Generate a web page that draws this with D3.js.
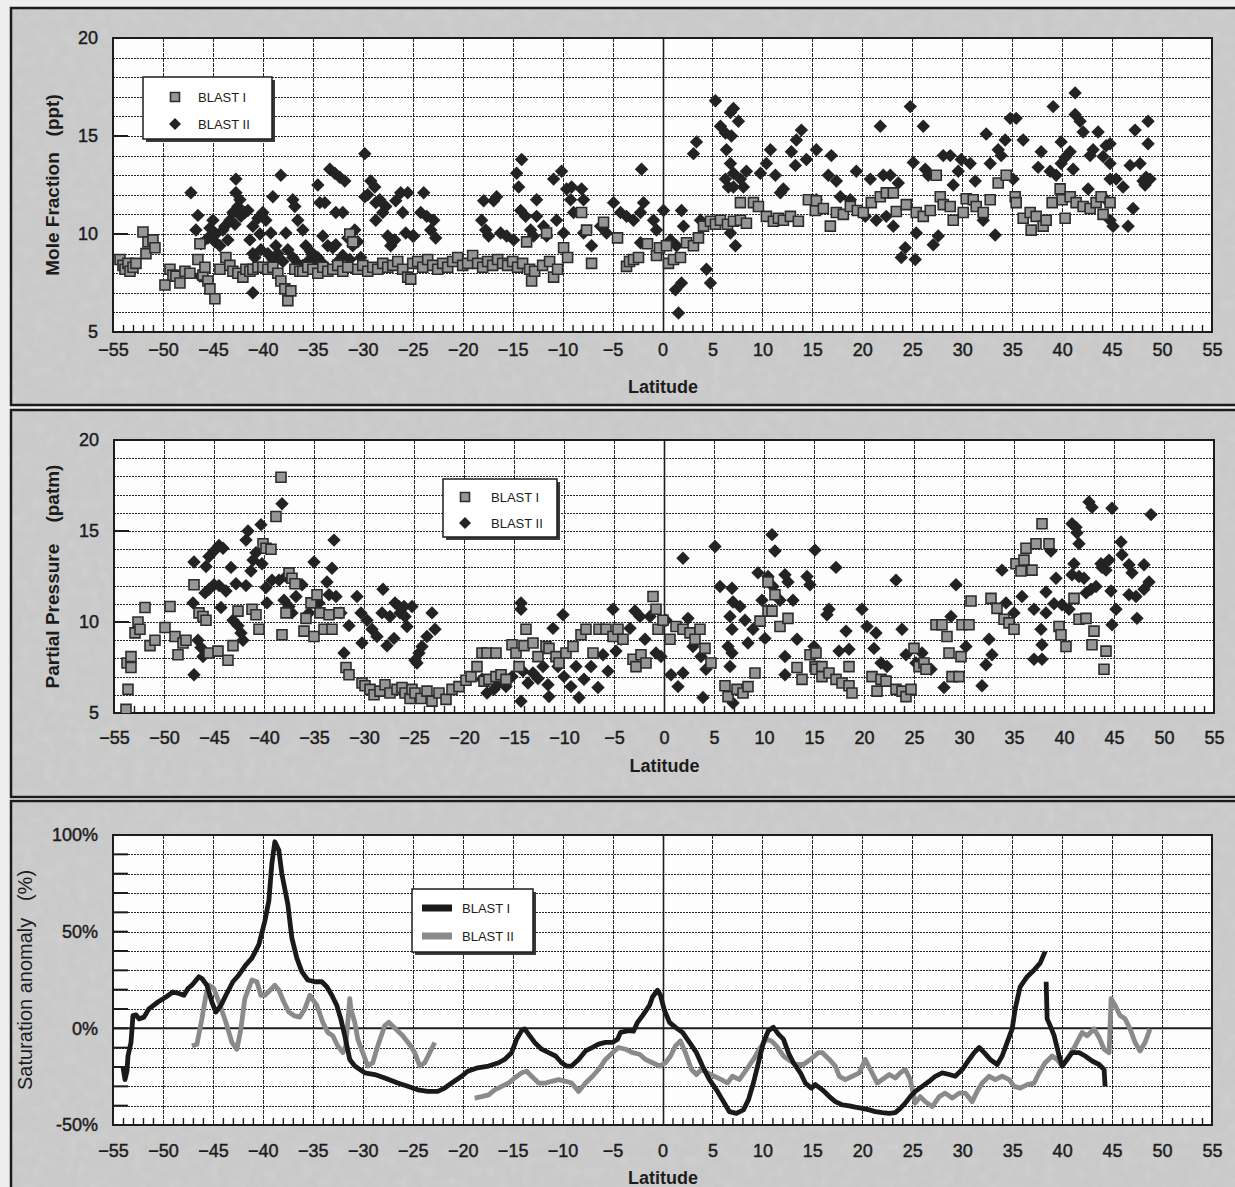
<!DOCTYPE html>
<html>
<head>
<meta charset="utf-8">
<script src="https://cdn.jsdelivr.net/npm/d3@7"></script>
<style>
  html, body { margin: 0; padding: 0; background: #eeeeee; }
  svg { display: block; font-family: "Liberation Sans", Arial, Helvetica, sans-serif; }
</style>
</head>
<body>
<svg id="chart" width="1235" height="1187"></svg>
<script>
// ---------- shared categories / ticks ----------
const seriesNames = ["BLAST I", "BLAST II"];
const latTicks = d3.range(-55, 56, 5);
const moleTicks = [5, 10, 15, 20];
const pressureTicks = [5, 10, 15, 20];
const anomalyTicks = [-50, 0, 50, 100];

// ---------- Mole fraction (ppt) vs latitude: [latitude, value] ----------
const moleBlastI = [
[-54.3,8.7],[-54.0,8.4],[-53.8,8.2],[-53.5,8.5],[-53.3,8.1],[-53.0,8.3],[-52.7,8.5],[-52.0,10.1],[-51.7,9.0],[-51.5,9.6],[-51.0,9.7],[-50.8,9.3],
[-49.8,7.4],[-49.3,8.2],[-49.0,7.9],[-48.7,7.85],[-48.3,7.5],[-47.8,8.1],[-47.3,8.0],[-46.5,8.7],[-46.3,9.5],[-46.0,7.9],[-45.8,8.3],[-45.5,7.6],[-45.3,7.2],[-44.8,6.7],[-44.3,8.2],[-43.7,8.8],[-43.3,8.4],[-43.0,8.1],[-42.5,8.0],[-42.0,7.8],[-41.7,8.2],[-41.3,8.1],[-41.0,8.2],[-40.5,8.3],[-40.0,8.3],[-39.5,8.2],[-39.0,8.3],[-38.5,8.0],[-38.2,7.6],[-37.8,7.2],[-37.5,6.6],[-37.2,7.1],[-36.8,8.2],[-36.3,8.1],[-36.0,8.1],[-35.5,8.3],[-35.0,8.2],[-34.5,8.0],[-34.0,8.3],[-33.5,8.1],[-33.0,8.2],[-32.5,8.4],[-32.0,8.1],[-31.5,8.3],[-31.3,10.0],[-31.0,9.6],[-30.5,8.2],[-30.0,8.4],[-29.5,8.1],[-29.0,8.3],[-28.5,8.2],[-28.0,8.5],[-27.5,8.3],[-27.0,8.4],[-26.5,8.6],[-26.0,8.2],[-25.5,7.8],[-25.2,7.7],[-25.0,8.5],
[-24.5,8.6],[-24.0,8.3],[-23.5,8.7],[-23.0,8.4],[-22.5,8.2],[-22.0,8.5],[-21.5,8.3],[-21.0,8.6],[-20.5,8.8],[-20.0,8.4],[-19.5,8.5],[-19.0,8.9],[-18.5,8.5],[-18.0,8.3],[-17.5,8.6],[-17.0,8.4],[-16.5,8.7],[-16.0,8.5],[-15.5,8.4],[-15.0,8.6],[-14.5,8.3],[-14.0,8.5],[-13.6,9.6],[-13.3,8.2],[-13.1,7.6],[-12.8,8.1],[-12.0,8.4],[-11.6,10.05],[-11.3,8.6],[-10.9,7.8],[-10.5,8.2],[-9.9,9.3],[-9.5,8.8],[-8.1,11.1],[-7.6,10.2],[-7.1,8.5],[-5.9,10.6],[-4.5,9.8],[-3.6,8.35],[-3.3,8.6],[-2.9,8.7],[-2.4,8.8],[-1.5,9.5],[-0.6,8.9],[-0.3,9.3],
[0.4,9.4],[0.6,8.5],[1.1,8.7],[1.8,8.8],[2.4,9.55],[3.1,9.4],[3.6,9.8],[4.1,10.4],[4.8,10.65],[5.3,10.5],[5.8,10.7],[6.5,10.5],[7.1,10.65],[7.8,10.7],[7.8,11.6],[8.4,10.55],[9.1,11.6],[9.6,11.4],[10.4,10.9],[11.1,10.65],[11.6,10.8],[12.1,10.7],[12.8,10.9],[13.6,10.65],[14.6,11.75],[15.3,11.2],[15.4,11.7],[16.1,11.3],[16.8,10.4],[17.4,11.1],[18.1,11.0],[18.8,11.4],[19.5,11.2],[20.1,11.1],[20.9,11.6],[21.8,11.9],[22.4,12.1],[23.1,12.1],[23.4,11.15],[24.4,11.5],[25.4,11.1],[26.1,10.9],[26.8,11.2],[27.4,13.0],[27.8,11.9],[28.1,11.5],[28.8,11.4],[29.1,10.7],[30.1,11.1],[30.4,11.8],[31.1,11.75],[31.4,11.4],[32.1,11.1],[32.8,11.75],[33.6,12.6],[34.4,13.0],[35.3,11.9],[35.4,11.6],[36.1,10.8],[36.8,11.1],[36.9,10.2],[37.4,10.9],[38.1,10.4],[38.4,10.7],[39.0,11.6],[39.8,12.3],[40.0,11.75],[40.3,10.8],[40.8,11.9],[41.4,11.6],[42.1,11.4],[42.8,11.3],[43.4,11.6],[43.9,11.9],[44.1,11.0],[44.8,11.6]
];
const moleBlastII = [
[-47.2,12.1],[-46.7,10.2],[-46.5,10.95],[-46.3,7.85],[-46.2,9.5],[-45.8,7.7],[-45.5,9.8],[-45.3,10.3],[-45.0,10.7],[-44.8,9.6],[-44.7,10.0],[-44.3,9.4],[-44.0,10.2],[-43.8,10.4],[-43.5,9.7],[-43.3,10.7],[-43.0,11.1],[-42.8,10.5],[-42.7,12.8],[-42.7,12.1],[-42.5,11.4],[-42.3,11.75],[-42.2,10.9],[-41.8,11.1],[-41.5,11.2],[-41.3,9.7],[-41.0,10.4],[-41.0,9.0],[-41.0,7.0],[-40.8,8.8],[-40.5,10.8],[-40.3,10.0],[-40.2,9.2],[-40.0,11.1],[-39.7,10.7],[-39.5,9.0],[-39.2,10.05],[-39.0,11.9],[-39.0,8.7],[-38.7,9.4],[-38.5,9.0],[-38.2,13.0],[-38.0,8.6],[-37.7,10.05],[-37.5,9.2],[-37.0,11.75],[-37.0,8.8],[-36.8,11.4],[-36.5,10.7],[-36.5,8.5],[-36.0,10.2],[-36.0,8.4],[-35.7,9.4],[-35.5,8.6],[-35.2,9.1],[-35.0,8.9],[-34.8,8.4],[-34.5,12.5],[-34.5,8.8],[-34.3,11.6],[-34.0,9.9],[-34.0,8.5],[-33.8,11.6],[-33.5,9.4],[-33.3,13.3],[-33.0,9.3],[-32.8,13.1],[-32.7,11.1],[-32.7,9.45],[-32.5,8.6],[-32.3,12.9],[-32.0,11.1],[-32.0,8.9],[-31.8,12.7],[-31.5,9.8],[-31.3,8.7],[-31.0,9.4],[-30.8,10.2],[-30.5,9.6],[-30.2,8.8],[-29.8,14.1],[-29.8,11.9],[-29.5,12.0],[-29.2,12.7],[-28.8,12.4],[-28.7,11.6],[-28.7,10.7],[-28.3,11.75],[-28.0,11.1],[-27.7,11.4],[-27.5,9.9],[-27.2,9.4],[-27.0,9.6],[-26.8,9.7],[-26.7,11.7],[-26.2,12.1],[-26.0,11.1],[-25.7,10.05],[-25.5,12.1],[-25.0,9.9],[-24.9,9.9],[-24.2,11.1],[-23.9,12.1],[-23.6,10.9],[-23.2,10.2],[-22.9,10.7],[-22.7,9.8],
[-18.1,10.7],[-17.9,11.7],[-17.7,10.2],[-17.4,9.9],[-16.9,11.7],[-16.6,11.9],[-16.2,10.05],[-15.6,9.9],[-14.9,9.7],[-14.6,13.1],[-14.4,12.4],[-14.2,11.2],[-14.1,13.8],[-13.7,10.9],[-13.2,10.2],[-12.9,9.9],[-12.6,11.75],[-12.6,10.9],[-11.9,10.4],[-11.6,9.9],[-10.9,12.8],[-10.6,10.7],[-10.1,13.2],[-9.9,10.05],[-9.6,12.3],[-9.2,11.75],[-9.1,12.4],[-8.9,11.1],[-8.1,12.3],[-7.9,11.75],[-7.9,10.05],[-7.1,9.4],[-6.2,10.4],[-5.6,10.05],[-4.9,11.6],[-4.2,11.1],[-3.6,10.9],[-2.9,10.7],[-2.2,11.1],[-2.1,13.3],[-1.9,11.6],[-2.2,9.55],[-0.9,10.7],[-0.6,10.2],
[0.1,11.2],[0.8,9.7],[1.3,7.15],[1.4,9.4],[1.6,5.97],[1.9,7.5],[1.9,11.2],[2.1,10.4],[3.1,14.1],[3.4,14.7],[3.8,10.7],[4.4,8.2],[4.8,7.5],[5.3,16.8],[5.8,15.5],[6.3,15.15],[6.3,12.8],[6.4,14.3],[6.6,12.4],[6.8,16.2],[6.8,13.6],[6.8,10.05],[6.9,15.0],[7.1,16.4],[7.1,13.1],[7.1,12.4],[7.3,9.4],[7.6,15.75],[7.8,12.8],[8.1,12.4],[8.4,13.2],[9.8,13.1],[10.4,13.6],[10.8,14.3],[11.3,13.0],[11.8,12.1],[12.1,12.3],[12.9,14.2],[13.3,13.5],[13.4,14.8],[13.9,15.3],[14.4,13.8],[15.4,14.3],[15.4,11.75],[16.6,13.0],[16.9,14.0],[17.4,12.7],[17.8,11.9],[18.8,11.75],[19.4,13.2],[20.3,10.9],[20.8,12.8],[21.4,10.7],[21.8,15.5],[22.1,13.0],[22.4,10.9],[22.8,13.0],[23.1,10.4],[23.6,12.6],[23.9,8.8],[24.3,9.3],[24.8,16.5],[25.1,13.65],[25.3,8.7],[25.4,10.05],[26.1,15.5],[26.3,13.3],[26.6,13.0],[27.1,9.45],[27.6,9.9],[28.1,14.0],[28.8,14.0],[29.1,12.5],[29.6,13.2],[29.9,13.8],[30.8,13.6],[31.3,12.7],[32.1,10.7],[32.4,15.1],[32.8,13.6],[33.3,9.95],[33.6,14.3],[33.9,14.0],[34.3,14.8],[34.8,15.9],[35.1,12.8],[35.4,15.9],[36.1,14.8],[37.6,13.4],[37.9,14.2],[38.8,13.2],[39.1,16.5],[39.4,13.0],[39.9,14.7],[39.9,13.6],[40.3,13.9],[40.8,14.2],[41.1,13.3],[41.3,17.2],[41.3,16.1],[41.8,15.75],[42.1,15.2],[42.6,12.3],[42.8,14.0],[43.1,14.3],[43.6,15.2],[44.1,13.95],[44.4,14.5],[44.4,11.75],[44.8,14.6],[44.8,13.6],[44.8,12.8],[44.8,10.7],[45.1,10.4],[45.4,12.8],[46.1,12.4],[46.6,10.4],[46.8,13.5],[47.1,11.3],[47.3,15.3],[47.8,13.6],[48.1,12.7],[48.3,12.5],[48.4,12.9],[48.6,14.6],[48.6,15.75],[48.8,12.8]
];

// ---------- Partial pressure (patm) vs latitude: [latitude, value] ----------
const pressureBlastI = [
[-53.8,5.2],[-53.7,7.75],[-53.6,6.3],[-53.3,7.5],[-53.3,8.1],[-52.9,9.4],[-52.6,10.0],[-52.4,9.6],[-51.9,10.8],[-51.4,8.7],[-50.9,9.0],[-49.9,9.7],[-49.4,10.85],[-48.9,9.2],[-48.6,8.2],[-48.1,8.85],[-47.8,9.0],[-47.0,12.05],[-46.5,10.5],[-46.1,10.3],[-45.8,10.1],[-45.5,8.3],[-44.6,8.4],[-43.6,7.9],[-43.1,8.7],[-42.6,10.6],[-41.2,10.7],[-40.8,10.4],[-40.5,9.6],[-40.1,14.3],[-39.8,14.05],[-39.3,14.0],[-38.8,15.8],[-38.3,17.95],[-38.2,9.3],[-37.8,10.5],[-37.5,12.7],[-37.2,12.4],[-36.9,12.1],[-36.0,9.5],[-35.8,10.2],[-35.3,11.05],[-35.0,9.2],[-34.7,11.5],[-34.4,10.5],[-34.0,9.6],[-33.5,10.4],[-33.2,9.6],[-32.5,10.5],[-31.8,7.5],[-31.5,7.1],[-30.2,6.65],[-29.9,6.5],[-29.4,6.3],[-29.0,6.0],[-28.4,6.2],[-27.9,6.55],[-27.4,6.1],[-26.7,6.3],[-26.2,6.4],[-25.9,6.1],[-25.4,5.8],[-25.2,6.3],[-24.9,6.1],[-24.3,5.8],[-23.7,6.2],[-23.2,5.65],[-22.5,6.1],[-21.8,5.75],[-21.2,6.3],[-20.5,6.45],[-19.8,6.8],[-19.3,7.0],[-18.7,7.55],[-18.2,8.3],[-18.0,6.75],[-17.7,8.3],[-17.5,6.85],[-16.8,8.3],[-16.8,7.0],[-16.3,7.1],[-15.8,6.85],[-15.2,8.75],[-14.8,8.3],[-14.5,7.55],[-14.0,8.7],[-13.8,9.6],[-13.1,8.85],[-12.6,8.1],[-11.8,8.65],[-11.5,8.55],[-10.8,8.1],[-10.5,7.75],[-9.8,8.3],[-9.1,8.65],[-8.3,9.3],[-7.8,9.6],[-7.1,8.3],[-6.5,9.6],[-5.8,9.6],[-5.1,9.2],[-4.6,9.6],[-4.1,9.05],[-3.1,7.95],[-2.8,7.55],[-2.3,8.2],[-1.8,7.75],[-1.1,11.4],[-0.8,10.7],[-0.6,9.6],[-0.1,10.1],
[0.6,9.05],[1.2,9.75],[1.9,9.6],[2.6,9.4],[3.1,9.05],[3.6,9.6],[4.1,8.55],[4.7,7.75],[6.1,6.5],[6.4,5.9],[7.3,6.3],[7.9,6.1],[8.4,6.45],[9.1,7.2],[9.6,10.05],[10.4,10.6],[10.4,12.2],[10.8,10.6],[11.1,11.5],[11.6,9.75],[12.4,10.2],[13.3,7.5],[13.8,6.85],[14.6,8.2],[15.1,7.55],[15.2,8.3],[15.2,7.4],[15.8,7.55],[15.8,7.0],[16.5,7.2],[17.2,6.85],[17.8,6.65],[18.5,6.5],[18.5,7.55],[18.8,6.1],[20.8,7.0],[21.3,6.2],[21.7,6.85],[22.2,6.75],[23.2,6.3],[23.8,6.2],[24.2,5.9],[24.7,6.3],[25.0,8.55],[25.5,7.55],[26.0,7.75],[26.2,7.4],[27.2,9.85],[27.8,9.85],[28.3,9.2],[28.5,8.3],[28.8,7.0],[29.5,7.0],[29.7,8.1],[29.8,9.85],[30.5,9.85],[30.7,11.15],[32.7,11.3],[33.3,10.75],[34.0,10.15],[34.5,9.95],[35.0,9.6],[35.2,13.2],[35.7,12.8],[36.0,13.4],[36.2,14.05],[36.8,12.85],[37.2,14.3],[37.8,15.4],[38.5,14.3],[39.5,9.75],[39.7,9.3],[40.2,8.65],[41.0,11.3],[41.5,10.15],[42.2,10.2],[42.8,8.75],[43.0,9.5],[44.0,7.4],[44.2,8.4]
];
const pressureBlastII = [
[-47.1,11.05],[-47.0,13.3],[-47.0,7.1],[-46.6,9.0],[-46.3,8.6],[-46.1,8.1],[-45.9,11.6],[-45.8,13.05],[-45.5,13.6],[-45.5,11.8],[-45.0,13.9],[-45.0,12.05],[-44.5,14.2],[-44.5,12.0],[-44.3,10.8],[-44.1,14.05],[-43.8,11.7],[-43.3,13.0],[-43.1,10.1],[-42.8,12.1],[-42.6,9.8],[-42.3,9.4],[-42.1,9.0],[-41.8,12.0],[-41.8,14.5],[-41.6,15.0],[-41.3,12.8],[-41.1,13.4],[-40.8,13.8],[-40.3,15.35],[-40.2,13.2],[-39.8,11.9],[-39.7,11.05],[-39.2,12.3],[-38.5,12.3],[-38.2,16.5],[-38.0,11.2],[-37.8,12.5],[-37.5,10.85],[-37.2,10.5],[-36.8,11.4],[-36.2,12.05],[-35.5,10.5],[-35.0,13.3],[-34.5,11.05],[-33.7,12.2],[-33.5,11.5],[-33.2,12.95],[-33.0,14.5],[-32.8,11.4],[-32.3,10.5],[-32.0,8.3],[-31.5,9.8],[-30.7,11.4],[-30.3,10.5],[-30.2,8.85],[-29.7,10.1],[-29.2,9.6],[-28.7,9.2],[-28.2,10.5],[-28.1,11.8],[-27.7,8.7],[-27.4,10.3],[-27.0,9.1],[-26.9,11.05],[-26.5,10.85],[-26.4,10.5],[-26.0,10.85],[-25.9,10.3],[-25.7,9.75],[-25.2,10.85],[-24.9,7.9],[-24.7,7.75],[-24.5,8.3],[-24.2,8.65],[-23.7,9.2],[-23.2,10.5],[-22.9,9.6],
[-18.2,6.85],[-17.7,6.1],[-17.0,6.3],[-16.5,6.65],[-15.8,6.45],[-15.2,7.0],[-14.3,11.05],[-14.3,10.7],[-14.3,5.65],[-14.1,7.3],[-13.6,6.65],[-13.1,7.2],[-12.6,6.9],[-12.1,7.55],[-11.6,6.55],[-11.5,5.9],[-11.1,9.65],[-10.6,7.55],[-10.1,10.4],[-10.0,7.0],[-9.3,6.45],[-8.8,7.55],[-8.5,5.85],[-8.0,6.85],[-7.3,7.55],[-6.6,6.4],[-6.1,8.2],[-5.6,7.3],[-5.1,10.7],[-4.8,8.4],[-4.3,9.05],[-3.4,9.65],[-2.9,10.6],[-2.4,10.3],[-1.9,9.05],[-1.4,10.3],[-0.8,8.3],[-0.3,8.1],
[0.2,10.1],[0.7,7.1],[1.4,6.45],[1.9,13.5],[1.9,7.2],[2.4,10.2],[2.9,8.65],[3.7,8.1],[3.9,5.85],[4.2,7.4],[5.1,14.15],[5.6,11.95],[6.4,8.65],[6.6,10.3],[6.6,7.55],[6.8,11.85],[6.8,9.6],[6.8,8.3],[6.9,11.1],[6.9,5.55],[7.6,10.85],[8.1,10.1],[8.4,8.85],[8.9,9.6],[9.4,12.7],[9.8,11.2],[10.1,9.1],[10.4,12.5],[10.8,14.8],[10.9,11.95],[11.1,13.9],[11.6,11.2],[12.1,12.6],[12.1,8.1],[12.1,7.1],[12.4,12.2],[12.9,11.2],[13.3,9.05],[14.3,12.5],[14.6,12.05],[15.0,8.65],[15.1,13.95],[16.3,10.4],[16.5,10.7],[17.2,13.0],[17.5,8.4],[18.2,9.5],[18.5,8.5],[19.8,10.7],[20.3,9.75],[21.0,8.55],[21.2,9.4],[21.7,7.75],[22.3,7.55],[23.2,12.3],[23.8,9.6],[24.2,8.2],[25.2,7.75],[25.8,8.3],[26.7,7.4],[28.0,6.4],[28.7,10.3],[29.2,12.05],[30.2,8.65],[31.8,6.5],[32.2,7.65],[32.5,9.05],[32.8,8.2],[33.8,12.85],[34.2,11.05],[35.0,10.5],[35.8,11.4],[37.0,10.7],[37.0,7.95],[37.7,9.6],[37.8,8.75],[37.8,7.95],[38.2,11.65],[38.2,10.5],[38.7,13.9],[39.0,11.0],[39.2,12.4],[39.8,10.95],[40.5,10.7],[40.8,15.4],[40.8,12.6],[41.0,13.2],[41.2,15.2],[41.3,14.9],[41.5,14.3],[41.5,12.5],[42.0,12.4],[42.2,11.6],[42.5,16.6],[42.7,11.8],[42.8,16.3],[43.2,11.95],[43.7,13.2],[43.8,13.0],[44.2,12.85],[44.5,13.4],[44.7,11.7],[44.8,16.25],[44.8,9.85],[45.2,10.7],[45.7,14.4],[45.8,13.7],[46.5,13.15],[46.5,11.5],[46.8,12.7],[47.2,11.4],[47.3,10.2],[48.0,13.15],[48.0,11.8],[48.5,12.2],[48.7,15.9]
];

// ---------- Saturation anomaly (%) vs latitude: [latitude, value], null = gap ----------
const anomalyBlastI = [
[-54.0,-20.0],[-53.8,-26.5],[-53.6,-22.0],[-53.5,-14.3],[-53.2,-7.3],[-53.0,6.6],[-52.7,7.0],[-52.4,4.9],[-51.9,5.8],[-51.4,10.1],[-50.5,13.6],[-49.7,16.2],[-49.0,18.8],[-48.4,18.0],[-47.9,17.1],[-47.5,20.6],[-47.1,22.3],[-46.4,26.7],[-46.1,25.8],[-45.6,22.3],[-45.1,13.6],[-44.7,8.4],[-44.2,11.9],[-43.7,17.1],[-43.0,24.1],[-42.4,27.6],[-41.7,32.8],[-41.1,36.3],[-40.4,43.3],[-39.8,55.5],[-39.4,66.0],[-39.1,85.2],[-38.8,96.5],[-38.4,92.1],[-38.1,79.9],[-37.5,64.2],[-37.1,46.8],[-36.6,36.3],[-36.1,29.3],[-35.5,25.0],[-34.8,24.1],[-34.1,24.1],[-33.6,21.5],[-33.1,17.1],[-32.6,11.9],[-32.2,4.9],[-31.8,-3.8],[-31.3,-16.1],[-30.8,-19.5],[-29.8,-23.0],[-28.8,-23.9],[-27.8,-25.7],[-26.5,-28.3],[-25.5,-30.0],[-24.5,-31.8],[-23.5,-32.6],[-22.5,-32.6],[-21.8,-30.9],[-21.1,-28.3],[-20.1,-24.8],[-19.5,-22.2],[-18.5,-20.4],[-17.4,-19.5],[-16.4,-17.8],[-15.8,-16.1],[-15.1,-12.6],[-14.6,-5.6],[-14.1,-1.2],[-13.8,-0.3],[-13.3,-3.8],[-12.8,-7.3],[-12.1,-10.8],[-11.4,-12.6],[-10.7,-14.3],[-10.1,-17.8],[-9.6,-19.5],[-9.1,-19.5],[-8.4,-16.1],[-7.7,-11.7],[-7.0,-9.9],[-6.4,-8.2],[-5.7,-7.3],[-5.0,-7.3],[-4.5,-5.6],[-4.2,-2.1],[-3.4,-1.2],[-2.9,-1.5],[-2.5,3.1],[-2.0,6.6],[-1.3,11.9],[-1.0,16.2],[-0.5,19.7],[-0.2,17.1],[0.2,9.2],[0.7,3.1],[1.3,0.5],[2.0,-2.1],[2.7,-7.3],[3.4,-12.6],[4.0,-19.5],[4.7,-26.5],[5.4,-31.8],[6.0,-37.0],[6.7,-43.1],[7.4,-44.0],[8.1,-42.2],[8.6,-37.0],[9.1,-28.3],[9.6,-17.8],[10.1,-7.3],[10.6,-1.2],[11.1,0.5],[11.6,-3.0],[12.1,-5.6],[12.6,-12.6],[13.1,-17.8],[13.8,-23.0],[14.3,-28.3],[14.9,-30.9],[15.3,-29.1],[16.0,-31.8],[16.7,-35.3],[17.3,-37.9],[18.0,-39.6],[18.7,-40.1],[19.3,-40.8],[20.0,-41.4],[20.7,-42.2],[21.3,-43.1],[22.0,-43.6],[22.7,-44.0],[23.3,-43.6],[23.8,-41.4],[24.3,-38.7],[24.8,-35.3],[25.3,-32.6],[26.0,-30.0],[26.7,-27.4],[27.3,-24.8],[28.0,-23.0],[28.7,-23.9],[29.3,-24.8],[30.0,-21.3],[30.7,-16.1],[31.2,-12.6],[31.7,-9.9],[32.2,-12.6],[32.8,-16.1],[33.5,-18.7],[34.0,-14.3],[34.5,-7.3],[35.0,-0.3],[35.3,10.1],[35.8,21.5],[36.5,26.7],[37.2,30.2],[37.8,33.7],[38.3,39.8],
null,
[38.4,24.1],[38.5,4.9],[38.8,1.4],[39.2,-3.8],[39.7,-14.3],[40.0,-19.5],[40.5,-16.1],[41.0,-12.6],[41.7,-12.6],[42.3,-14.3],[43.0,-16.9],[43.7,-18.7],[44.2,-21.3],[44.3,-30.0]
];
const anomalyBlastII = [
[-47.1,-9.1],[-46.6,-8.2],[-46.1,4.9],[-45.7,17.1],[-45.4,22.3],[-44.9,20.6],[-44.4,13.6],[-43.7,3.1],[-43.1,-7.3],[-42.6,-10.8],[-42.2,-0.3],[-41.8,15.4],[-41.1,25.0],[-40.6,24.1],[-40.2,17.1],[-39.8,17.1],[-39.1,20.6],[-38.8,22.3],[-38.4,19.7],[-37.9,13.6],[-37.4,8.4],[-36.9,6.6],[-36.3,5.8],[-35.8,10.1],[-35.3,17.1],[-34.6,11.9],[-34.0,3.1],[-33.5,-2.1],[-33.0,-3.8],[-32.5,-9.1],[-32.0,-12.6],[-31.7,-9.1],[-31.3,15.4],[-31.2,10.1],[-30.8,3.1],[-30.5,-5.6],[-30.0,-12.6],[-29.5,-19.5],[-29.0,-17.8],[-28.5,-9.1],[-27.8,1.4],[-27.4,3.1],[-26.7,-0.3],[-26.0,-3.8],[-25.2,-9.1],[-24.8,-12.6],[-24.3,-19.5],[-23.8,-17.8],[-23.3,-12.6],[-22.8,-7.3],
null,
[-18.8,-36.1],[-18.1,-35.3],[-17.4,-34.4],[-16.8,-31.8],[-16.1,-30.0],[-15.4,-28.3],[-14.8,-25.7],[-14.1,-23.0],[-13.6,-22.2],[-13.1,-24.8],[-12.4,-28.3],[-11.7,-28.3],[-11.1,-27.4],[-10.4,-26.5],[-9.7,-27.4],[-9.1,-28.3],[-8.4,-32.6],[-7.7,-28.3],[-7.0,-24.8],[-6.4,-21.3],[-5.7,-16.1],[-5.0,-12.6],[-4.4,-9.9],[-3.7,-10.8],[-3.0,-12.6],[-2.3,-13.4],[-1.7,-16.1],[-1.0,-17.8],[-0.3,-19.5],[0.3,-17.8],[0.8,-14.3],[1.3,-9.1],[1.8,-6.5],[2.3,-12.6],[2.9,-21.3],[3.4,-23.9],[3.9,-21.3],[4.5,-23.0],[5.2,-24.8],[5.9,-26.5],[6.5,-28.3],[7.0,-24.8],[7.7,-26.5],[8.4,-21.3],[9.1,-16.1],[9.7,-10.8],[10.4,-5.6],[10.9,-6.5],[11.4,-9.1],[12.1,-14.3],[12.8,-16.9],[13.4,-18.7],[14.1,-18.7],[14.8,-16.1],[15.6,-12.6],[16.0,-12.6],[16.7,-16.1],[17.3,-19.5],[17.7,-24.8],[18.3,-26.5],[19.0,-24.8],[19.7,-23.0],[20.3,-16.1],[20.8,-21.3],[21.5,-28.3],[22.0,-26.5],[22.7,-23.9],[23.3,-25.7],[23.8,-23.0],[24.3,-21.3],[24.8,-26.5],[25.3,-38.7],[25.8,-35.3],[26.3,-37.9],[27.0,-40.5],[27.7,-35.3],[28.3,-33.5],[29.0,-36.1],[29.7,-33.5],[30.3,-33.5],[31.0,-37.9],[31.5,-32.6],[32.0,-28.3],[32.7,-24.8],[33.3,-26.5],[34.0,-24.8],[34.7,-26.5],[35.2,-30.0],[35.8,-30.9],[36.5,-29.1],[37.2,-28.3],[37.7,-23.0],[38.3,-17.8],[39.0,-14.3],[39.5,-16.1],[40.0,-19.5],[40.7,-14.3],[41.3,-9.1],[42.0,-2.1],[42.5,-3.8],[43.2,-0.3],[43.7,-4.7],[44.2,-10.8],[44.7,-12.6],[44.9,15.4],[45.3,11.9],[45.8,6.6],[46.3,4.9],[46.8,-0.3],[47.3,-7.3],[47.8,-11.7],[48.3,-7.3],[48.8,-0.3]
];

// ---------- styling ----------
const INK = "#1c1c1c";
const PANEL_FILL = "#c9c9c9";
const GRID = "#262626";
const SQUARE_FILL = "#969696";
const LINE_COLORS = ["#1a1a1a", "#8a8a8a"];
const TICK_FONT = '"Liberation Sans", Arial, sans-serif';

const svg = d3.select("#chart");

// fine, faint paper grain for the grey panel backgrounds
const defs = svg.append("defs");
const texture = defs.append("filter").attr("id", "texture")
  .attr("x", 0).attr("y", 0).attr("width", "100%").attr("height", "100%");
texture.append("feTurbulence").attr("type", "fractalNoise")
  .attr("baseFrequency", "0.09").attr("numOctaves", 2).attr("seed", 11);
texture.append("feColorMatrix").attr("type", "matrix")
  .attr("values", "0 0 0 0 1  0 0 0 0 1  0 0 0 0 1  0 0 0 -1.6 0.95");

const panels = [
  {
    frame: [8, 405], plot: {left: 113, right: 1212, top: 38, bottom: 332},
    yDomain: [5, 20], yTicks: moleTicks, yGrid: d3.range(6, 20, 1), yMarks: [10, 15],
    fmt: d => d, xPad: 11, latBaseline: 393,
    title: "Mole Fraction   (ppt)", titleX: 52, titleWeight: "bold", titleSize: 19,
    kind: "scatter", data: [moleBlastI, moleBlastII],
    legend: {x: 143, y: 77, w: 129, h: 62, rows: [20, 47], mark: 32, text: 55}
  },
  {
    frame: [410, 797], plot: {left: 114, right: 1214, top: 440, bottom: 713},
    yDomain: [5, 20], yTicks: pressureTicks, yGrid: d3.range(6, 20, 1), yMarks: [10, 15],
    fmt: d => d, xPad: 18, latBaseline: 772,
    title: "Partial Pressure    (patm)", titleX: 52, titleWeight: "bold", titleSize: 19,
    kind: "scatter", data: [pressureBlastI, pressureBlastII],
    legend: {x: 443, y: 479, w: 114, h: 58, rows: [18, 44], mark: 22, text: 48}
  },
  {
    frame: [801, 1200], plot: {left: 113, right: 1212, top: 835, bottom: 1125},
    yDomain: [-50, 100], yTicks: anomalyTicks, yGrid: d3.range(-40, 100, 10), yMarks: d3.range(-40, 100, 10),
    fmt: d => d + "%", xPad: 19, latBaseline: 1184,
    title: "Saturation anomaly   (%)", titleX: 25, titleWeight: "normal", titleSize: 20,
    kind: "line", data: [anomalyBlastI, anomalyBlastII],
    legend: {x: 412, y: 889, w: 121, h: 63, rows: [19, 47], lineX: [10, 40], text: 50}
  }
];

const crisp = v => Math.round(v) + 0.5;
const squarePath = s => d3.symbol(d3.symbolSquare, s * s)();

panels.forEach(p => {
  const g = svg.append("g");
  const P = p.plot;
  const x = d3.scaleLinear().domain([-55, 55]).range([P.left, P.right]);
  const y = d3.scaleLinear().domain(p.yDomain).range([P.bottom, P.top]);

  // panel frame with grained grey fill
  g.append("rect")
    .attr("x", 11).attr("y", p.frame[0])
    .attr("width", 1260).attr("height", p.frame[1] - p.frame[0])
    .attr("fill", PANEL_FILL);
  g.append("rect")
    .attr("x", 11).attr("y", p.frame[0])
    .attr("width", 1260).attr("height", p.frame[1] - p.frame[0])
    .attr("fill", "#ffffff").attr("filter", "url(#texture)").attr("opacity", 0.14);
  g.append("rect")
    .attr("x", 11).attr("y", p.frame[0])
    .attr("width", 1260).attr("height", p.frame[1] - p.frame[0])
    .attr("fill", "none").attr("stroke", INK).attr("stroke-width", 2.5);

  // plot area
  g.append("rect")
    .attr("x", P.left).attr("y", P.top)
    .attr("width", P.right - P.left).attr("height", P.bottom - P.top)
    .attr("fill", "#fdfdfd");

  // horizontal dotted grid
  g.append("g").selectAll("line").data(p.yGrid.filter(v => !(p.kind === "line" && v === 0))).join("line")
    .attr("x1", P.left).attr("x2", P.right)
    .attr("y1", d => crisp(y(d))).attr("y2", d => crisp(y(d)))
    .attr("stroke", GRID).attr("stroke-width", 1).attr("stroke-dasharray", "2,1");

  // vertical grid every 5 degrees
  g.append("g").selectAll("line").data(latTicks.filter(v => v > -55 && v < 55 && v !== 0)).join("line")
    .attr("x1", d => crisp(x(d))).attr("x2", d => crisp(x(d)))
    .attr("y1", P.top).attr("y2", P.bottom)
    .attr("stroke", GRID).attr("stroke-width", 1).attr("stroke-dasharray", "4,1");

  // equator
  g.append("line")
    .attr("x1", crisp(x(0))).attr("x2", crisp(x(0)))
    .attr("y1", P.top).attr("y2", P.bottom)
    .attr("stroke", INK).attr("stroke-width", 1.6);

  // zero anomaly line
  if (p.kind === "line") {
    g.append("line")
      .attr("x1", P.left).attr("x2", P.right)
      .attr("y1", y(0)).attr("y2", y(0))
      .attr("stroke", INK).attr("stroke-width", 2);
  }

  // minor latitude ticks (inside, every degree)
  const minorAxis = d3.axisBottom(x)
    .tickValues(d3.range(-54, 55, 1).filter(v => v % 5 !== 0))
    .tickSize(-7).tickFormat("");
  g.append("g").attr("transform", `translate(0,${P.bottom})`).call(minorAxis)
    .call(a => a.select(".domain").remove())
    .call(a => a.selectAll("line").attr("stroke", INK).attr("stroke-width", 1.4));

  // latitude labels
  const xAxis = d3.axisBottom(x).tickValues(latTicks).tickSize(0).tickPadding(p.xPad);
  g.append("g").attr("transform", `translate(0,${P.bottom})`).call(xAxis)
    .call(a => a.select(".domain").remove())
    .call(a => a.selectAll("text").attr("font-size", 18).attr("fill", INK)
      .attr("stroke", INK).attr("stroke-width", 0.45).attr("font-family", TICK_FONT));

  // major value ticks (inside)
  g.append("g").selectAll("line").data(p.yMarks).join("line")
    .attr("x1", P.left).attr("x2", P.left + 15)
    .attr("y1", d => y(d)).attr("y2", d => y(d))
    .attr("stroke", INK).attr("stroke-width", 2);

  // value labels
  const yAxis = d3.axisLeft(y).tickValues(p.yTicks).tickSize(0).tickPadding(15).tickFormat(p.fmt);
  g.append("g").attr("transform", `translate(${P.left},0)`).call(yAxis)
    .call(a => a.select(".domain").remove())
    .call(a => a.selectAll("text").attr("font-size", 18).attr("fill", INK)
      .attr("stroke", INK).attr("stroke-width", 0.45).attr("font-family", TICK_FONT));

  // plot border
  g.append("rect")
    .attr("x", P.left).attr("y", P.top)
    .attr("width", P.right - P.left).attr("height", P.bottom - P.top)
    .attr("fill", "none").attr("stroke", INK).attr("stroke-width", 2);

  // axis titles
  g.append("text")
    .attr("x", (P.left + P.right) / 2 + 0.5).attr("y", p.latBaseline)
    .attr("text-anchor", "middle").attr("font-size", 18).attr("font-weight", "bold")
    .attr("fill", INK).text("Latitude");
  g.append("text")
    .attr("transform", `translate(${p.titleX},${(P.top + P.bottom) / 2}) rotate(-90)`)
    .attr("text-anchor", "middle").attr("dominant-baseline", "central")
    .attr("font-size", p.titleSize).attr("font-weight", p.titleWeight)
    .style("white-space", "pre")
    .attr("fill", INK).text(p.title);

  // data marks
  const clip = "clip" + p.frame[0];
  g.append("clipPath").attr("id", clip).append("rect")
    .attr("x", P.left).attr("y", P.top - 8)
    .attr("width", P.right - P.left).attr("height", P.bottom - P.top + 8);
  const marks = g.append("g").attr("clip-path", `url(#${clip})`);

  if (p.kind === "scatter") {
    marks.append("g").selectAll("path").data(p.data[1]).join("path")
      .attr("d", squarePath(9.5))
      .attr("transform", d => `translate(${x(d[0])},${y(d[1])}) rotate(45)`)
      .attr("fill", "#232323");
    marks.append("g").selectAll("path").data(p.data[0]).join("path")
      .attr("d", squarePath(10))
      .attr("transform", d => `translate(${x(d[0])},${y(d[1])})`)
      .attr("fill", SQUARE_FILL).attr("stroke", "#2c2c2c").attr("stroke-width", 1.6);
  } else {
    const line = d3.line().defined(d => d !== null)
      .x(d => x(d[0])).y(d => y(d[1]));
    [1, 0].forEach(i => {
      marks.append("path").datum(p.data[i])
        .attr("d", line).attr("fill", "none")
        .attr("stroke", LINE_COLORS[i]).attr("stroke-width", 4.8)
        .attr("stroke-linejoin", "round").attr("stroke-linecap", "butt");
    });
  }

  // legend
  const L = p.legend;
  const lg = g.append("g");
  lg.append("rect").attr("x", L.x + 3).attr("y", L.y + 3).attr("width", L.w).attr("height", L.h)
    .attr("fill", "#3a3a3a");
  lg.append("rect").attr("x", L.x).attr("y", L.y).attr("width", L.w).attr("height", L.h)
    .attr("fill", "#ffffff").attr("stroke", INK).attr("stroke-width", 1.5);
  seriesNames.forEach((name, i) => {
    const ry = L.y + L.rows[i];
    if (p.kind === "scatter") {
      if (i === 0) {
        lg.append("path").attr("d", squarePath(9))
          .attr("transform", `translate(${L.x + L.mark},${ry})`)
          .attr("fill", SQUARE_FILL).attr("stroke", "#2c2c2c").attr("stroke-width", 1.6);
      } else {
        lg.append("path").attr("d", squarePath(8.5))
          .attr("transform", `translate(${L.x + L.mark},${ry}) rotate(45)`)
          .attr("fill", "#232323");
      }
    } else {
      lg.append("line")
        .attr("x1", L.x + L.lineX[0]).attr("x2", L.x + L.lineX[1])
        .attr("y1", ry).attr("y2", ry)
        .attr("stroke", LINE_COLORS[i]).attr("stroke-width", 7);
    }
    lg.append("text").attr("x", L.x + L.text).attr("y", ry)
      .attr("dominant-baseline", "central").attr("font-size", 13)
      .attr("fill", INK).text(name);
  });
});
</script>
</body>
</html>
